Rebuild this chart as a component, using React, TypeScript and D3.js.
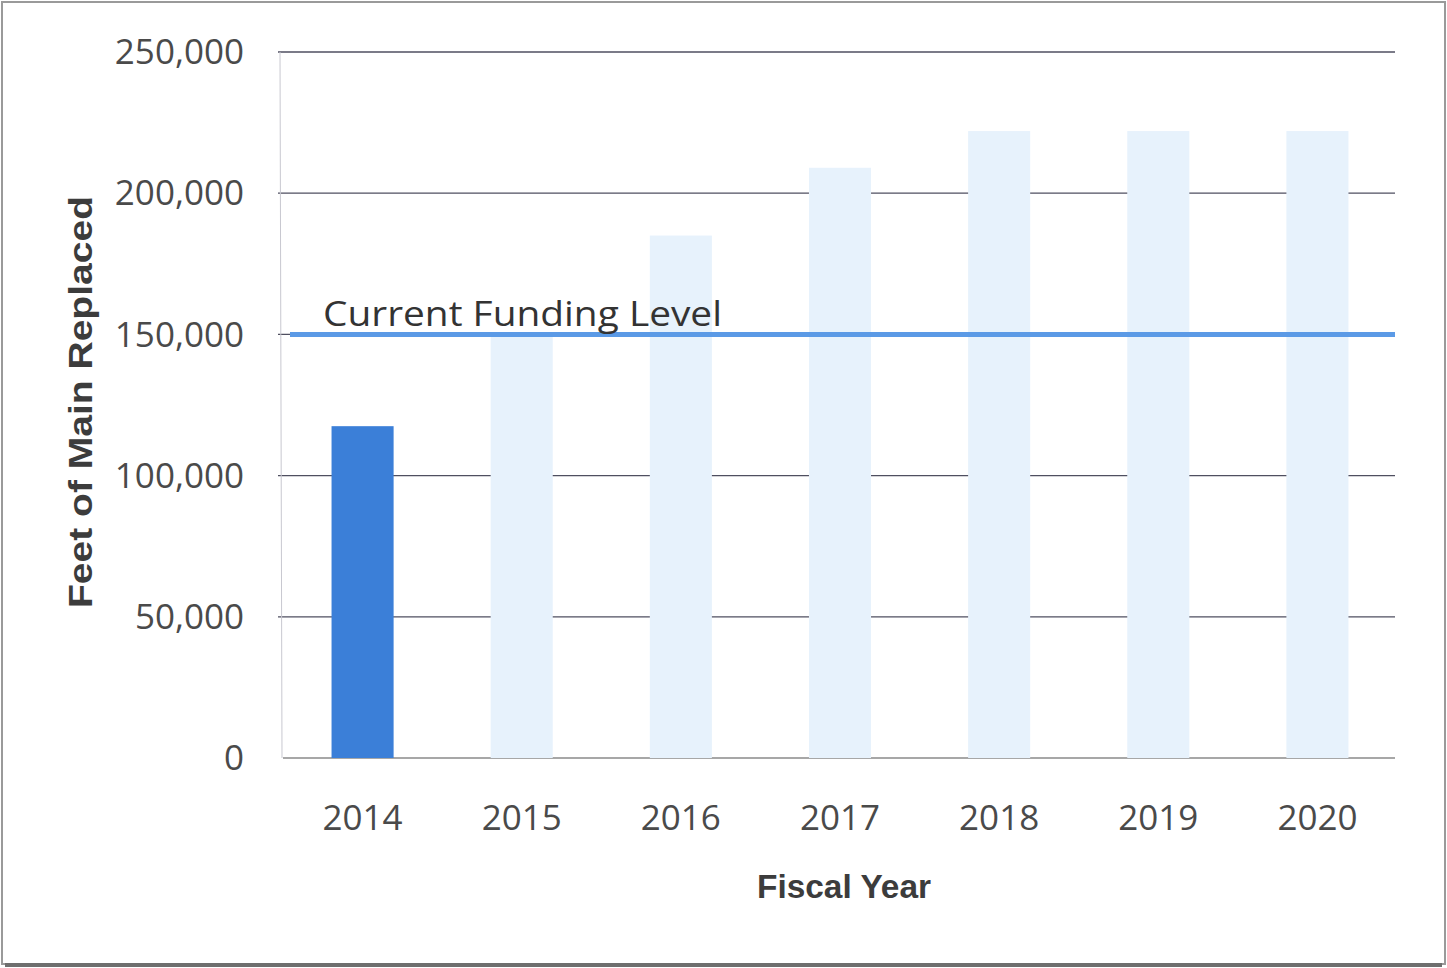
import React from "react";
import * as d3 from "d3";

const years = ["2014", "2015", "2016", "2017", "2018", "2019", "2020"];
const feetReplaced = [117500, 150000, 185000, 209000, 222000, 222000, 222000];
const barColors = ["#3b7fd8", "#e7f2fc", "#e7f2fc", "#e7f2fc", "#e7f2fc", "#e7f2fc", "#e7f2fc"];
const yTicks = [0, 50000, 100000, 150000, 200000, 250000];
const fundingLevel = 150000;
const fundingLabel = "Current Funding Level";
const yTitle = "Feet of Main Replaced";
const xTitle = "Fiscal Year";

const W = 1447;
const H = 968;
const left = 283;
const right = 1397;
const top = 52;
const bottom = 758;

export default function App() {
  const x = d3.scaleBand<string>().domain(years).range([left, right]).paddingInner(0.61).paddingOuter(0.305);
  const y = d3.scaleLinear().domain([0, 250000]).range([bottom, top]);
  const fmt = d3.format(",");
  const font = "'Open Sans', 'DejaVu Sans', sans-serif";
  const titleFont = "'Liberation Sans', Arial, sans-serif";

  return (
    <svg width={W} height={H} style={{ position: "absolute", left: 0, top: 0, background: "#fff" }}>
      <rect x={2} y={2} width={W - 4} height={H - 6} fill="#fff" stroke="#9a9a9a" strokeWidth={2} />
      <line x1={5} x2={W - 5} y1={H - 3} y2={H - 3} stroke="#6e6e6e" strokeWidth={4} />
      {/* gridlines */}
      {yTicks.map((t) => (
        <line key={t} x1={t === 0 ? left : 278} x2={1395} y1={y(t)} y2={y(t)} stroke={t === 0 ? "#8a8a8a" : "#4f4f60"} strokeWidth={1.3} />
      ))}
      <line x1={280} x2={282} y1={top} y2={bottom} stroke="#c8c8d0" strokeWidth={1} />
      {/* bars */}
      {years.map((yr, i) => (
        <rect key={yr} x={x(yr)} y={y(feetReplaced[i])} width={x.bandwidth()} height={y(0) - y(feetReplaced[i])} fill={barColors[i]} />
      ))}
      {/* funding line */}
      <line x1={290} x2={1395} y1={y(fundingLevel)} y2={y(fundingLevel)} stroke="#5b9ae6" strokeWidth={5} />
      <text x={323} y={y(fundingLevel) - 8} fontFamily={font} fontSize={35} fill="#333" textLength={399} lengthAdjust="spacingAndGlyphs">{fundingLabel}</text>
      {/* y tick labels */}
      {yTicks.map((t) => (
        <text key={t} x={244} y={y(t)} dy="0.35em" textAnchor="end" fontFamily={font} fontSize={35} fill="#4a4a4a">{fmt(t)}</text>
      ))}
      {/* x tick labels */}
      {years.map((yr) => (
        <text key={yr} x={(x(yr) as number) + x.bandwidth() / 2} y={818} dy="0.35em" textAnchor="middle" fontFamily={font} fontSize={35} fill="#4a4a4a">{yr}</text>
      ))}
      <text transform={`translate(92,402) rotate(-90)`} textAnchor="middle" fontFamily={titleFont} fontWeight="bold" fontSize={33} fill="#3c3c3c" textLength={412} lengthAdjust="spacingAndGlyphs">{yTitle}</text>
      <text x={844} y={898} textAnchor="middle" fontFamily={titleFont} fontWeight="bold" fontSize={33} fill="#3c3c3c" textLength={174} lengthAdjust="spacingAndGlyphs">{xTitle}</text>
    </svg>
  );
}
